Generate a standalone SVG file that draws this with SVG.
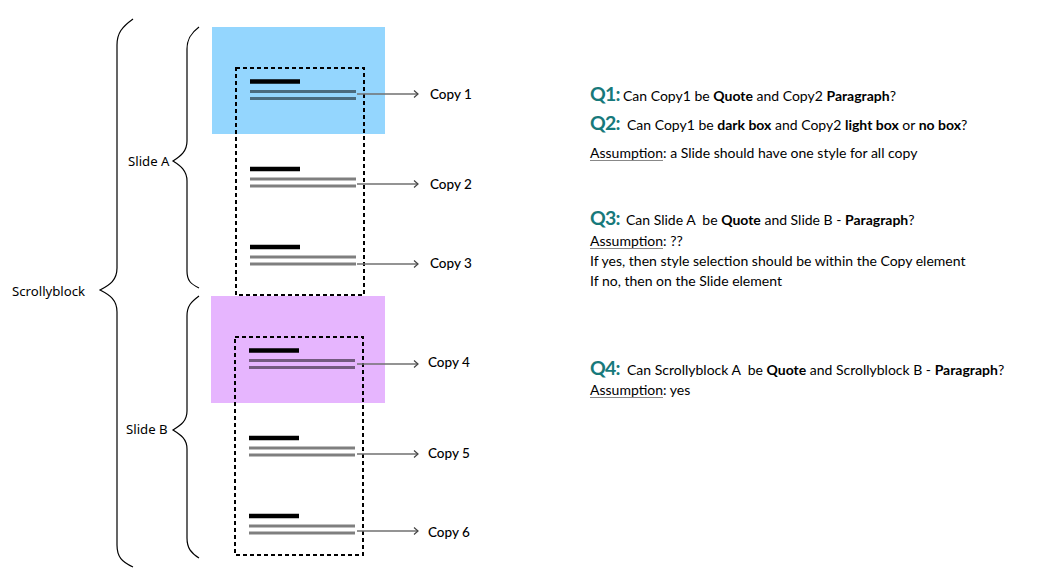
<svg xmlns="http://www.w3.org/2000/svg" width="1041" height="584" viewBox="0 0 1041 584">
<defs>
<style>
.brace{fill:none;stroke:#000;stroke-width:1.2}
.dash{fill:none;stroke:#000;stroke-width:2;stroke-dasharray:4 3}
.head{stroke:#000;stroke-width:4.5}
.body{stroke:#000;stroke-opacity:0.5;stroke-width:3}
.conn{stroke:#707070;stroke-width:1.5;fill:none;marker-end:url(#arr)}
.lbl{font-family:"Noto Sans","Open Sans",sans-serif;font-size:13.2px;fill:#000}
.cp{font-family:"Lato","Inter",sans-serif;font-size:13.5px;font-weight:500;fill:#000}
.q{font-family:"Lato","Inter",sans-serif;font-size:14px;fill:#000;white-space:pre}
.qn{font-family:"Lato","Inter",sans-serif;font-size:19.5px;font-weight:bold;fill:#17797b;letter-spacing:-0.8px}
.b{font-weight:bold}
.ul{stroke:#888;stroke-width:1.2}
</style>
<marker id="arr" markerWidth="10" markerHeight="10" refX="7" refY="5" orient="auto" markerUnits="userSpaceOnUse">
<path d="M3,1.5 L7,5 L3,8.5" fill="none" stroke="#444" stroke-width="1.2"/>
</marker>
</defs>
<rect width="1041" height="584" fill="#fff"/>

<g id="slideA-bg"><rect x="212" y="27" width="173" height="107" fill="#94d6fe"/></g>
<g id="slideB-bg"><rect x="211" y="296" width="174" height="107" fill="#e6b5fe"/></g>

<g id="braces">
<path class="brace" d="M133,19 C122,27 117,33 117,45 L117,268 C117,280 110,285 100,290 C110,295 117,300 117,312 L117,545 C117,557 122,562 133,567"/>
<path class="brace" d="M199,27 C191,33 187,39 187,49 L187,141 C187,151 181,156 173,161 C181,166 187,171 187,181 L187,271 C187,281 191,284 199,288"/>
<path class="brace" d="M199,296 C191,302 187,306 187,316 L187,411 C187,421 181,425 173,430 C181,435 187,439 187,449 L187,538 C187,548 191,553 199,558"/>
</g>
<g id="labels">
<text class="lbl" x="12" y="296">Scrollyblock</text>
<text class="lbl" x="128" y="166">Slide A</text>
<text class="lbl" x="126" y="434">Slide B</text>
</g>

<g id="copy1"><line class="head" x1="250" y1="81.5" x2="300" y2="81.5"/><line class="body" x1="250" y1="91.5" x2="356" y2="91.5"/><line class="body" x1="250" y1="98.5" x2="356" y2="98.5"/><text class="cp" x="430" y="99">Copy 1</text></g>
<g id="copy2"><line class="head" x1="250" y1="169" x2="300" y2="169"/><line class="body" x1="250" y1="179" x2="356" y2="179"/><line class="body" x1="250" y1="186" x2="356" y2="186"/><text class="cp" x="430" y="189">Copy 2</text></g>
<g id="copy3"><line class="head" x1="250" y1="247" x2="300" y2="247"/><line class="body" x1="250" y1="257" x2="356" y2="257"/><line class="body" x1="250" y1="264" x2="356" y2="264"/><text class="cp" x="430" y="268">Copy 3</text></g>
<g id="copy4"><line class="head" x1="249" y1="350.5" x2="299" y2="350.5"/><line class="body" x1="249" y1="360.5" x2="355" y2="360.5"/><line class="body" x1="249" y1="367.5" x2="355" y2="367.5"/><text class="cp" x="428" y="367">Copy 4</text></g>
<g id="copy5"><line class="head" x1="249" y1="438" x2="299" y2="438"/><line class="body" x1="249" y1="448" x2="355" y2="448"/><line class="body" x1="249" y1="455" x2="355" y2="455"/><text class="cp" x="428" y="458">Copy 5</text></g>
<g id="copy6"><line class="head" x1="249" y1="516" x2="299" y2="516"/><line class="body" x1="249" y1="526" x2="355" y2="526"/><line class="body" x1="249" y1="533" x2="355" y2="533"/><text class="cp" x="428" y="537">Copy 6</text></g>

<g id="slideA"><rect class="dash" x="236" y="68" width="128" height="227"/></g>
<g id="slideB"><rect class="dash" x="235" y="337" width="128" height="218"/></g>

<g id="connectors">
<line class="conn" x1="357" y1="94" x2="418" y2="94"/>
<line class="conn" x1="357" y1="184" x2="418" y2="184"/>
<line class="conn" x1="357" y1="264" x2="418" y2="264"/>
<line class="conn" x1="357" y1="364" x2="418" y2="364"/>
<line class="conn" x1="357" y1="454" x2="418" y2="454"/>
<line class="conn" x1="357" y1="531" x2="418" y2="531"/>
</g>

<g id="questions">
<text x="590" y="101"><tspan class="qn">Q1:</tspan><tspan class="q" x="623">Can Copy1 be <tspan class="b">Quote</tspan> and Copy2 <tspan class="b">Paragraph</tspan>?</tspan></text>
<text x="590" y="130"><tspan class="qn">Q2:</tspan><tspan class="q" x="627">Can Copy1 be <tspan class="b">dark box</tspan> and Copy2 <tspan class="b">light box</tspan> or <tspan class="b">no box</tspan>?</tspan></text>
<text class="q" x="590" y="158">Assumption: a Slide should have one style for all copy</text>
<line class="ul" x1="590" y1="160.5" x2="663" y2="160.5"/>
<text x="590" y="225"><tspan class="qn">Q3:</tspan><tspan class="q" x="626">Can Slide A  be <tspan class="b">Quote</tspan> and Slide B - <tspan class="b">Paragraph</tspan>?</tspan></text>
<text class="q" x="590" y="246">Assumption: ??</text>
<line class="ul" x1="590" y1="248.5" x2="663" y2="248.5"/>
<text class="q" x="590" y="266">If yes, then style selection should be within the Copy element</text>
<text class="q" x="590" y="286">If no, then on the Slide element</text>
<text x="590" y="375"><tspan class="qn">Q4:</tspan><tspan class="q" x="627">Can Scrollyblock A  be <tspan class="b">Quote</tspan> and Scrollyblock B - <tspan class="b">Paragraph</tspan>?</tspan></text>
<text class="q" x="590" y="395">Assumption: yes</text>
<line class="ul" x1="590" y1="397.5" x2="663" y2="397.5"/>
</g>
</svg>
